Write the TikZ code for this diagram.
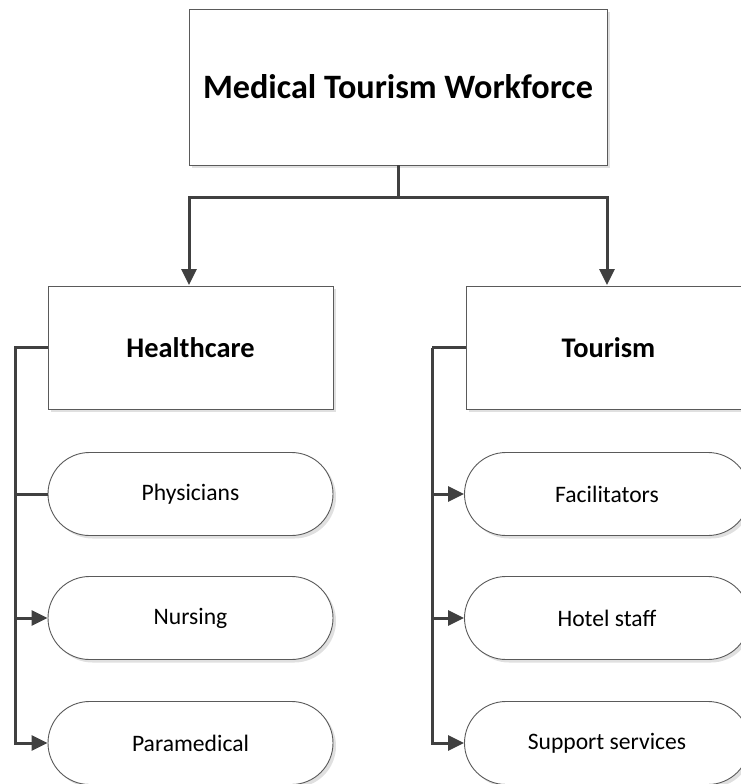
\documentclass[tikz,border=0pt]{standalone}
\usepackage{fontspec}
\setmainfont{Carlito}
\usetikzlibrary{arrows.meta,shadows,shapes.misc}
\definecolor{lc}{HTML}{404040}
\definecolor{bc}{HTML}{5A5A5A}
\tikzset{
  shd/.style={drop shadow={shadow xshift=3pt,shadow yshift=-3pt,fill=black!12,opacity=1}},
  boxnode/.style={draw=bc,line width=0.9pt,fill=white,shd,inner sep=0pt},
  pill/.style={rounded rectangle,draw=bc,line width=0.9pt,fill=white,shd,inner sep=0pt,
    minimum width=285pt,minimum height=83pt,font=\fontsize{23.6}{28}\selectfont},
  conn/.style={draw=lc,line width=3pt},
  tip/.style={-{Triangle[length=16pt,width=15pt]}}
}
\begin{document}
\begin{tikzpicture}[x=1pt,y=-1pt]
\useasboundingbox (0,0) rectangle (741,784);
\node[boxnode,minimum width=418pt,minimum height=156pt,font=\bfseries\fontsize{34.2}{40}\selectfont] (top) at (398,87) {Medical Tourism Workforce};
\node[boxnode,minimum width=285pt,minimum height=123pt,font=\bfseries\fontsize{28.4}{33}\selectfont] (hc) at (190.5,347.5) {Healthcare};
\node[boxnode,minimum width=285pt,minimum height=123pt,font=\bfseries\fontsize{28.4}{33}\selectfont] (tr) at (608.5,347.5) {Tourism};
\node[pill] (phys) at (190.5,494) {Physicians};
\node[pill] (nurs) at (190.5,618) {Nursing};
\node[pill] (para) at (190.5,743) {Paramedical};
\node[pill] (fac) at (607,494) {Facilitators};
\node[pill] (hot) at (607,618) {Hotel staff};
\node[pill] (sup) at (607,743) {Support services};
\coordinate (j) at (398,197);
\coordinate (lb) at (15,347.5);
\coordinate (rb) at (432,347.5);
\draw[conn] (top.south) -- (j);
\draw[conn,tip] (j) -| (189,285);
\draw[conn,tip] (j) -| (607,285);
\draw[conn] (hc.west) -- (lb) |- (phys.west);
\draw[conn,tip] (lb) |- (nurs.west);
\draw[conn,tip] (lb) |- (para.west);
\draw[conn] (tr.west) -- (rb);
\draw[conn,tip] (rb) |- (fac.west);
\draw[conn,tip] (rb) |- (hot.west);
\draw[conn,tip] (rb) |- (sup.west);
\end{tikzpicture}
\end{document}
